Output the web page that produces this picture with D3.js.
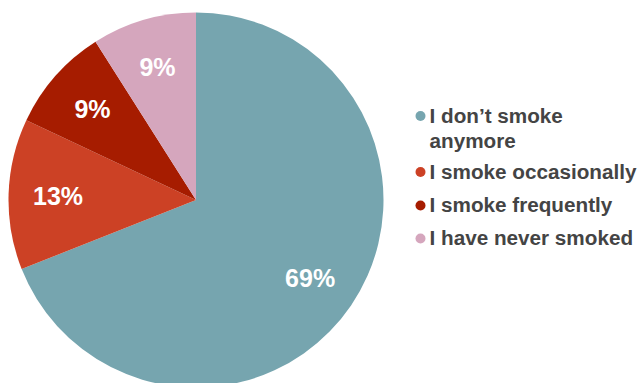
<!DOCTYPE html>
<html>
<head>
<meta charset="utf-8">
<script src="https://cdn.jsdelivr.net/npm/d3@7"></script>
<style>
  html, body { margin: 0; padding: 0; background: #fff; }
  svg { display: block; }
</style>
</head>
<body>
<script>
const categories = ["I don\u2019t smoke anymore", "I smoke occasionally", "I smoke frequently", "I have never smoked"];
const legendLines = [["I don\u2019t smoke", "anymore"], ["I smoke occasionally"], ["I smoke frequently"], ["I have never smoked"]];
const values = [69, 13, 9, 9];
const colors = ["#76A5AF", "#CC4125", "#A61C00", "#D5A6BD"];

const W = 640, H = 383;
const cx = 196, cy = 200, R = 187.5;

const svg = d3.select("body").append("svg").attr("width", W).attr("height", H);

const data = categories.map((c, i) => ({ name: c, value: values[i], color: colors[i], lines: legendLines[i] }));

const pie = d3.pie().value(d => d.value).sort(null);
const arcs = pie(data);
const arc = d3.arc().innerRadius(0).outerRadius(R);
const labelArc = d3.arc().innerRadius(138).outerRadius(138);

const g = svg.append("g").attr("transform", `translate(${cx},${cy})`);
g.selectAll("path").data(arcs).join("path")
  .attr("d", arc)
  .attr("fill", d => d.data.color);

const total = d3.sum(values);
g.selectAll("text.lbl").data(arcs).join("text")
  .attr("class", "lbl")
  .attr("transform", d => `translate(${labelArc.centroid(d)})`)
  .attr("text-anchor", "middle")
  .attr("dy", "0.36em")
  .attr("fill", "#fff")
  .style("font-family", "'Liberation Sans', Arial, sans-serif")
  .style("font-weight", "bold")
  .style("font-size", "25px")
  .text(d => Math.round(d.data.value / total * 100) + "%");

// legend
const legendX = 420.5;
const itemY = [116, 172, 205.5, 238.5];
const lg = svg.append("g");
data.forEach((d, i) => {
  const item = lg.append("g").attr("transform", `translate(${legendX},${itemY[i]})`);
  item.append("circle").attr("r", 5).attr("fill", d.color);
  const t = item.append("text")
    .attr("x", 9)
    .attr("y", 6.5)
    .attr("fill", "#444444")
    .style("font-family", "'Liberation Sans', Arial, sans-serif")
    .style("font-weight", "bold")
    .style("font-size", "20.7px");
  d.lines.forEach((ln, j) => {
    t.append("tspan").attr("x", 9).attr("dy", j === 0 ? 0 : 25).text(ln);
  });
});
</script>
</body>
</html>
